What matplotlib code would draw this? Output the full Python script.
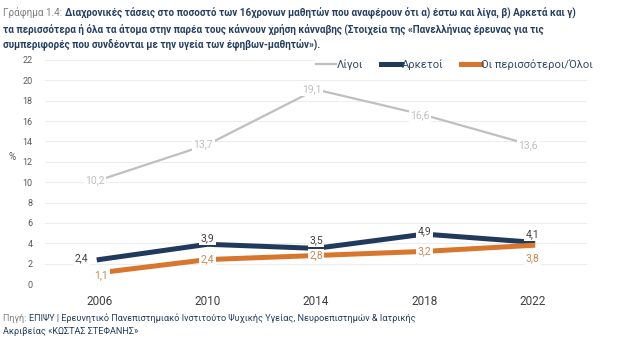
import matplotlib
matplotlib.use('Agg')
import matplotlib.pyplot as plt

# Data
years = ['2006', '2010', '2014', '2018', '2022']
ligoi = [10.2, 13.7, 19.1, 16.6, 13.6]
arketoi = [2.4, 3.9, 3.5, 4.9, 4.1]
perissoteroi = [1.1, 2.4, 2.8, 3.2, 3.8]
series_names = ['Λίγοι', 'Αρκετοί', 'Οι περισσότεροι/Όλοι']
y_ticks = [0, 2, 4, 6, 8, 10, 12, 14, 16, 18, 20, 22]

title_prefix = 'Γράφημα 1.4: '
title_line1 = 'Διαχρονικές τάσεις στο ποσοστό των 16χρονων μαθητών που αναφέρουν ότι α) έστω και λίγα, β) Αρκετά και γ)'
title_line2 = 'τα περισσότερα ή όλα τα άτομα στην παρέα τους κάννουν χρήση κάνναβης (Στοιχεία της «Πανελλήνιας έρευνας για τις'
title_line3 = 'συμπεριφορές που συνδέονται με την υγεία των έφηβων-μαθητών»).'
source_prefix = 'Πηγή: '
source_line1 = 'ΕΠΙΨΥ | Ερευνητικό Πανεπιστημιακό Ινστιτούτο Ψυχικής Υγείας, Νευροεπιστημών & Ιατρικής'
source_line2 = 'Ακριβείας «ΚΩΣΤΑΣ ΣΤΕΦΑΝΗΣ»'

plt.rcParams['font.family'] = ['Roboto', 'DejaVu Sans']

GREY = '#BFBFBF'
NAVY = '#213A5C'
ORANGE = '#D9762E'
TITLE_COL = '#243F60'

fig = plt.figure(figsize=(6.2, 3.55), dpi=100)
ax = fig.add_axes([0.0726, 0.2, 0.874, 0.631])

x = list(range(len(years)))

# Lines
ax.plot(x, ligoi, color=GREY, lw=1.6, label=series_names[0], zorder=3)
ax.plot(x, arketoi, color=NAVY, lw=3.6, label=series_names[1], zorder=4)
ax.plot(x, perissoteroi, color=ORANGE, lw=3.6, label=series_names[2], zorder=4)

# Data labels (white box hides the line under the label, like the original)
box = dict(boxstyle='square,pad=0.15', fc='white', ec='none')
for i, v in enumerate(ligoi):
    ax.text(i - 0.04, v, f'{v:.1f}'.replace('.', ','), color=GREY, fontsize=7.5,
            ha='center', va='center', bbox=box, zorder=6)

navy_off = [(-0.1, 0.15), (0, 0.55), (0, 0.8), (0, 0.3), (0, 0.75)]
for i, v in enumerate(arketoi):
    dx, dy = navy_off[i]
    ha = 'right' if dx < 0 else 'center'
    ax.text(i + dx, v + dy, f'{v:.1f}'.replace('.', ','), color='#404040', fontsize=7.5,
            ha=ha, va='center', bbox=box, zorder=6)

orange_off = [(0.02, -0.2), (0, 0), (0, 0), (0, 0), (0, -1.25)]
for i, v in enumerate(perissoteroi):
    dx, dy = orange_off[i]
    ax.text(i + dx, v + dy, f'{v:.1f}'.replace('.', ','), color='#C8894F', fontsize=7.5,
            ha='center', va='center', bbox=box, zorder=7)

# Axes styling
ax.set_xlim(-0.5, len(years) - 0.5)
ax.set_ylim(0, 22)
ax.set_yticks(y_ticks)
ax.set_xticks(x)
ax.set_xticklabels(years)
ax.tick_params(axis='x', length=0, labelsize=8.5, labelcolor='#404040', pad=8)
ax.tick_params(axis='y', length=0, labelsize=6.5, labelcolor='#595959', pad=9)
ax.grid(axis='y', color='#EDEDED', lw=0.8)
ax.set_axisbelow(True)
for s in ax.spines.values():
    s.set_visible(False)
ax.set_ylabel('%', rotation=0, fontsize=7, color='#595959', labelpad=6)
ax.yaxis.set_label_coords(-0.06, 0.545)

leg = ax.legend(loc='center', bbox_to_anchor=(0.756, 0.978), ncol=3, frameon=True,
                fontsize=8, handlelength=1.8, handletextpad=0.05, columnspacing=1.6,
                borderpad=0.1, labelcolor='#2F4A6A')
leg.get_frame().set_edgecolor('none')
leg.get_frame().set_facecolor('white')

# Title (grey prefix + bold text)
fig.canvas.draw()
rend = fig.canvas.get_renderer()
t0 = fig.text(0.005, 0.963, title_prefix, fontsize=7.1, color='#7F7F7F', va='center')
w = t0.get_window_extent(renderer=rend).width / fig.bbox.width
fig.text(0.005 + w, 0.963, title_line1, fontsize=7.1, color=TITLE_COL, fontweight='bold', va='center')
fig.text(0.005, 0.918, title_line2, fontsize=7.1, color=TITLE_COL, fontweight='bold', va='center')
fig.text(0.005, 0.875, title_line3, fontsize=7.1, color=TITLE_COL, fontweight='bold', va='center')

# Source
s0 = fig.text(0.005, 0.104, source_prefix, fontsize=6.6, color='#7F7F7F', va='center')
w = s0.get_window_extent(renderer=rend).width / fig.bbox.width
fig.text(0.005 + w, 0.104, source_line1, fontsize=6.6, color=TITLE_COL, va='center')
fig.text(0.005, 0.065, source_line2, fontsize=6.6, color=TITLE_COL, va='center')

fig.savefig('out.png', dpi=100)
